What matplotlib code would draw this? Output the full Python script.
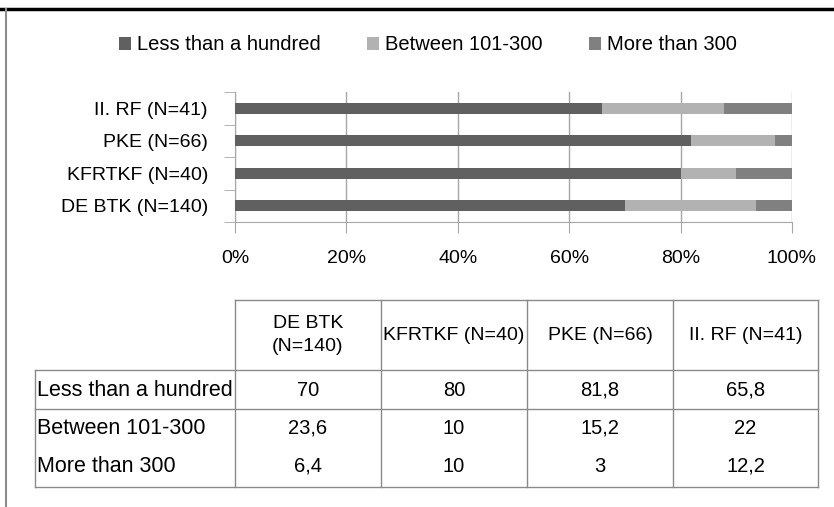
import matplotlib.pyplot as plt
from matplotlib.patches import Patch

plt.rcParams['font.family'] = ['Liberation Sans', 'DejaVu Sans']

# bottom-to-top order on the chart, left-to-right in the table
groups = ['DE BTK (N=140)', 'KFRTKF (N=40)', 'PKE (N=66)', 'II. RF (N=41)']
header_labels = ['DE BTK\n(N=140)', 'KFRTKF (N=40)', 'PKE (N=66)', 'II. RF (N=41)']
series_names = ['Less than a hundred', 'Between 101-300', 'More than 300']
less_100 = [70, 80, 81.8, 65.8]
between_101_300 = [23.6, 10, 15.2, 22]
more_300 = [6.4, 10, 3, 12.2]
xticks = [0, 20, 40, 60, 80, 100]

colors = ['#606060', '#b2b2b2', '#808080']
grid_col = '#a6a6a6'
W, H = 834, 507


def fmt(v):
    return f'{v:g}'.replace('.', ',')


fig = plt.figure(figsize=(W / 100, H / 100), dpi=100)

# chart axes, placed in pixels
x0, x1, y0, y1 = 235, 792, 92, 222
ax = fig.add_axes([x0 / W, 1 - y1 / H, (x1 - x0) / W, (y1 - y0) / H])

series = [less_100, between_101_300, more_300]
left = [0] * len(groups)
ypos = list(range(len(groups)))
for name, vals, c in zip(series_names, series, colors):
    ax.barh(ypos, vals, left=left, height=0.34, color=c, label=name, zorder=3)
    left = [l + v for l, v in zip(left, vals)]

ax.set_xlim(0, 100)
ax.set_ylim(-0.5, len(groups) - 0.5)
ax.set_xticks(xticks)
ax.set_xticklabels([f'{t}%' for t in xticks], fontsize=14)
ax.set_yticks(ypos)
ax.set_yticklabels(groups, fontsize=14)
ax.set_yticks([i - 0.5 for i in range(len(groups) + 1)], minor=True)
ax.tick_params(axis='y', which='major', length=0, pad=19.5)
ax.tick_params(axis='y', which='minor', length=8, color=grid_col, direction='out')
ax.tick_params(axis='x', length=8, color=grid_col, direction='out', pad=12.5)
ax.grid(axis='x', color=grid_col, lw=1, zorder=0)
for s in ['top', 'right']:
    ax.spines[s].set_visible(False)
for s in ['left', 'bottom']:
    ax.spines[s].set_color(grid_col)

handles = [Patch(facecolor=c, label=n) for n, c in zip(series_names, colors)]
fig.legend(handles=handles, loc='center', bbox_to_anchor=(428 / W, 1 - 45 / H), ncol=3,
           frameon=False, fontsize=14.5, handlelength=0.6, handleheight=0.6,
           handletextpad=0.3, columnspacing=2.3)

# overlay in pixel coordinates for the data table and frame lines
ov = fig.add_axes([0, 0, 1, 1])
ov.set_xlim(0, W)
ov.set_ylim(H, 0)
ov.axis('off')
ov.patch.set_alpha(0)

ov.plot([0, W], [9, 9], color='black', lw=2.5)
ov.plot([6, 6], [9, H], color='#8c8c8c', lw=1.5)

line_col = '#8a8a8a'
cols = [235, 381, 527, 673, 818]
top, head_bot, r1_bot, bot = 300, 370, 409, 487
lab_x = 35
ov.plot([cols[0], cols[-1]], [top, top], color=line_col, lw=1)
for y in [head_bot, r1_bot, bot]:
    ov.plot([lab_x, cols[-1]], [y, y], color=line_col, lw=1)
for x in cols:
    ov.plot([x, x], [top, bot], color=line_col, lw=1)
ov.plot([lab_x, lab_x], [head_bot, bot], color=line_col, lw=1)

for i, lab in enumerate(header_labels):
    cx = (cols[i] + cols[i + 1]) / 2
    ov.text(cx, (top + head_bot) / 2, lab, ha='center', va='center', fontsize=14,
            linespacing=1.5)

row_y = [390, 428, 466]
for name, vals, y in zip(series_names, series, row_y):
    ov.text(lab_x + 2, y, name, ha='left', va='center', fontsize=15.5)
    for i, v in enumerate(vals):
        cx = (cols[i] + cols[i + 1]) / 2
        ov.text(cx, y, fmt(v), ha='center', va='center', fontsize=14.5)

fig.savefig('out.png', dpi=100)
